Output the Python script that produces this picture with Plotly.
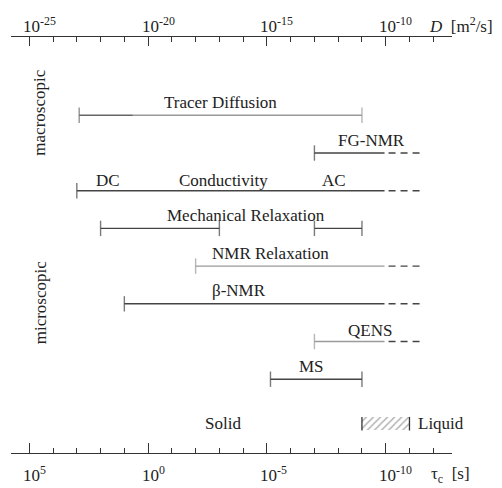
import plotly.graph_objects as go

# ---- data (log10 of tau_c in s) ----
rows = ["Tracer Diffusion", "FG-NMR", "Conductivity", "Mechanical Relaxation",
        "NMR Relaxation", "β-NMR", "QENS", "MS"]
# solid segments: (row index, start, end, cap_left, cap_right, colour)
seg_row   = [0,    0,     1,    2,    3,   3,    4,    5,    6,    7]
seg_start = [2.9,  0.64, -7.0,  3.0,  2.0, -7.0, -2.0, 1.0, -7.0, -5.15]
seg_end   = [0.64, -9.0, -9.95, -9.95, -3.0, -9.0, -9.95, -9.95, -9.95, -9.0]
seg_capl  = [1, 0, 1, 1, 1, 1, 1, 1, 1, 1]
seg_capr  = [0, 1, 0, 0, 1, 1, 0, 0, 0, 1]
seg_col   = ["#666666", "#9a9a9a", "#444444", "#444444", "#444444", "#444444",
             "#9a9a9a", "#444444", "#9a9a9a", "#444444"]
# dashed extensions
dash_row   = [1, 2, 4, 5, 6]
dash_start = [-10.12, -10.12, -10.12, -10.12, -10.12]
dash_end   = [-11.5, -11.5, -11.5, -11.5, -11.5]
# text labels above rows: (text, x, row)
lab_text = ["Tracer Diffusion", "FG-NMR", "DC", "Conductivity", "AC",
            "Mechanical Relaxation", "NMR Relaxation", "β-NMR", "QENS", "MS"]
lab_x    = [-3.03, -9.42, 1.69, -3.19, -7.82, -4.10, -5.17, -3.83, -9.32, -6.89]
lab_row  = [0, 1, 2, 2, 2, 3, 4, 5, 6, 7]
# liquid region
liq_start, liq_end = -9.0, -11.0
phase_row = 8.18

tau_ticks = [5, 0, -5, -10]
tau_text = ["10<sup>5</sup>", "10<sup>0</sup>", "10<sup>-5</sup>", "10<sup>-10</sup>"]
D_ticks = [-25, -20, -15, -10]
D_text = ["10<sup>-25</sup>", "10<sup>-20</sup>", "10<sup>-15</sup>", "10<sup>-10</sup>"]

SERIF = "Liberation Serif, Times New Roman, serif"
INK = "#333333"
TXT = "#222222"

fig = go.Figure()

for r, s, e, cl, cr, c in zip(seg_row, seg_start, seg_end, seg_capl, seg_capr, seg_col):
    fig.add_trace(go.Scatter(
        x=[s, e], y=[r, r], mode="lines+markers",
        line=dict(color=c, width=1.4),
        marker=dict(symbol="line-ns", size=[11 * cl, 11 * cr],
                    line=dict(color=c, width=1.4), color=c),
        showlegend=False, hoverinfo="skip"))

for r, s, e in zip(dash_row, dash_start, dash_end):
    fig.add_trace(go.Scatter(
        x=[s, e], y=[r, r], mode="lines",
        line=dict(color="#444444", width=1.4, dash="7px,5px"),
        showlegend=False, hoverinfo="skip"))

# hatched liquid box
fig.add_trace(go.Bar(
    x=[liq_end - liq_start], base=[liq_start], y=[phase_row], orientation="h",
    width=0.36,
    marker=dict(color="white", line=dict(width=0),
                pattern=dict(shape="/", fgcolor="#6a6a6a", bgcolor="white",
                             size=5, solidity=0.3)),
    showlegend=False, hoverinfo="skip"))
for xv in [liq_start, liq_end]:
    fig.add_trace(go.Scatter(
        x=[xv, xv], y=[phase_row - 0.18, phase_row + 0.18], mode="lines",
        line=dict(color="#333333", width=1.3), showlegend=False, hoverinfo="skip"))

# top axis dummy trace
fig.add_trace(go.Scatter(x=[-20], y=[0], xaxis="x2", mode="markers",
                         marker=dict(opacity=0), showlegend=False, hoverinfo="skip"))

for t, xv, r in zip(lab_text, lab_x, lab_row):
    shift = 10 if t in ("DC", "Conductivity", "AC") else 13
    if t == "QENS":
        shift = 11
    fig.add_annotation(x=xv, y=r, text=t, showarrow=False, yshift=shift,
                       font=dict(family=SERIF, size=17, color=TXT))

fig.add_annotation(x=-3.15, y=phase_row, text="Solid", showarrow=False,
                   font=dict(family=SERIF, size=17, color=TXT))
fig.add_annotation(x=-12.31, y=phase_row, text="Liquid", showarrow=False,
                   font=dict(family=SERIF, size=17, color=TXT))

fig.add_annotation(x=4.55, y=-0.07, text="macroscopic",
                   showarrow=False, textangle=-90,
                   font=dict(family=SERIF, size=17, color=TXT))
fig.add_annotation(x=4.55, y=4.96, text="microscopic",
                   showarrow=False, textangle=-90,
                   font=dict(family=SERIF, size=17, color=TXT))

# tick labels: "10" centred on the tick, exponent hanging to the right
for tv, tt in zip(D_ticks, D_text):
    fig.add_annotation(xref="x2", yref="paper", x=tv, y=1.0, text=tt,
                       xanchor="left", yanchor="bottom", xshift=-8.5, yshift=-1,
                       showarrow=False,
                       font=dict(family=SERIF, size=17, color=TXT))
for tv, tt in zip(tau_ticks, tau_text):
    fig.add_annotation(xref="x", yref="paper", x=tv, y=0.0, text=tt,
                       xanchor="left", yanchor="bottom", xshift=-8.5, yshift=-34,
                       showarrow=False,
                       font=dict(family=SERIF, size=17, color=TXT))

# axis titles
fig.add_annotation(xref="paper", yref="paper", x=1.0, y=1.0, xanchor="left",
                   yanchor="bottom", xshift=-25, yshift=-1,
                   text="<i>D</i>  [m<sup>2</sup>/s]", showarrow=False,
                   font=dict(family=SERIF, size=17, color=TXT))
fig.add_annotation(xref="paper", yref="paper", x=1.0, y=0.0, xanchor="left",
                   yanchor="bottom", xshift=-23, yshift=-35,
                   text="τ<sub>c</sub>  [s]", showarrow=False,
                   font=dict(family=SERIF, size=17, color=TXT))

fig.update_layout(
    width=502, height=488,
    margin=dict(l=11, r=50, t=37, b=35, autoexpand=False),
    paper_bgcolor="white", plot_bgcolor="white",
    bargap=0,
    xaxis=dict(range=[5.77, -12.79], showgrid=False, zeroline=False,
               showline=True, linecolor=INK, linewidth=1.3,
               ticks="inside", ticklen=10, tickwidth=1.2, tickcolor=INK,
               tickvals=tau_ticks, showticklabels=False,
               minor=dict(ticks="inside", ticklen=5, tickwidth=1.2,
                          tickcolor=INK, dtick=1, tick0=0, showgrid=False)),
    xaxis2=dict(range=[-25.77, -7.21], overlaying="x", side="top",
                anchor="y", showgrid=False, zeroline=False,
                showline=True, linecolor=INK, linewidth=1.3,
                ticks="inside", ticklen=9, tickwidth=1.2, tickcolor=INK,
                tickvals=D_ticks, showticklabels=False,
                minor=dict(ticks="inside", ticklen=5, tickwidth=1.2,
                           tickcolor=INK, dtick=1, tick0=0, showgrid=False)),
    yaxis=dict(range=[8.957, -2.077], visible=False, showgrid=False,
               zeroline=False),
)

fig.write_html("out.html")
